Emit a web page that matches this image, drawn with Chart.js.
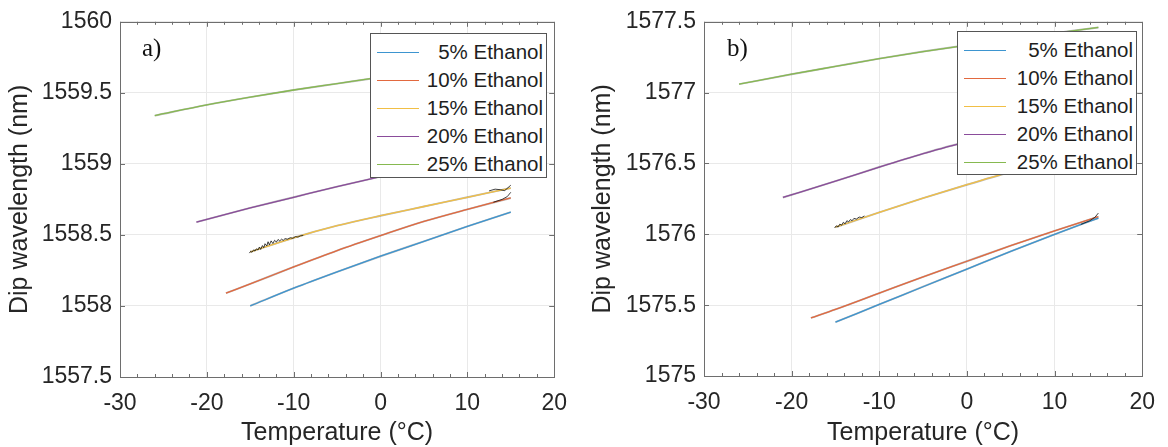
<!DOCTYPE html>
<html>
<head>
<meta charset="utf-8">
<script src="https://cdn.jsdelivr.net/npm/chart.js@4.4.1/dist/chart.umd.min.js"></script>
<style>
  html, body { margin:0; padding:0; background:#fff; }
  #wrap { position:relative; width:1168px; height:447px; overflow:hidden; font-family:'Liberation Sans', Arial, sans-serif; }
  canvas { position:absolute; top:0; }
  .legend { position:absolute; background:#fff; border:1px solid #555; box-sizing:border-box; }
  .legend .row { position:absolute; left:0; right:0; height:28px; }
  .legend .ln { position:absolute; left:6px; width:42px; top:13px; height:0; border-top:1.6px solid; }
  .legend .tx { position:absolute; right:3px; top:1px; font-size:20.5px; line-height:24px; color:#1e1e1e; white-space:nowrap; }
  .tag { position:absolute; font-family:'Liberation Serif', 'Times New Roman', serif; font-size:25px; line-height:25px; color:#111; }
</style>
</head>
<body>
<div id="wrap">
  <canvas id="chartA" width="580" height="447" style="left:0"></canvas>
  <canvas id="chartB" width="588" height="447" style="left:580px"></canvas>
  <div class="tag" style="left:142px; top:35px">a)</div>
  <div class="tag" style="left:727px; top:35px">b)</div>
  <div class="legend" id="legA" style="left:370px; top:33px; width:177px; height:145px"></div>
  <div class="legend" id="legB" style="left:957px; top:31px; width:180px; height:144px"></div>
</div>
<script>
// Dip wavelength vs temperature, two panels, five ethanol concentrations
const LABELS = ['5% Ethanol','10% Ethanol','15% Ethanol','20% Ethanol','25% Ethanol'];
const COLORS = ['#3d95d0','#e2693f','#f1bf45','#8a4c9b','#86b950'];
const INK = '#262626';

// panel a) fitted curves
const tA5  = [-15, -10, -5, 0, 5, 10, 15];
const wA5  = [1558.00, 1558.125, 1558.24, 1558.35, 1558.455, 1558.56, 1558.66];
const tA10 = [-17.8, -15, -10, -5, 0, 5, 10, 15];
const wA10 = [1558.09, 1558.155, 1558.275, 1558.39, 1558.495, 1558.595, 1558.68, 1558.76];
const tA15 = [-15, -10, -5, 0, 5, 10, 15];
const wA15 = [1558.38, 1558.48, 1558.565, 1558.635, 1558.70, 1558.765, 1558.83];
const tA20 = [-21.2, -15, -10, -5, 0, 5, 10, 15];
const wA20 = [1558.59, 1558.69, 1558.765, 1558.84, 1558.91, 1558.975, 1559.04, 1559.10];
const tA25 = [-26, -20, -15, -10, -5, 0, 5, 10, 15];
const wA25 = [1559.34, 1559.415, 1559.47, 1559.52, 1559.565, 1559.61, 1559.65, 1559.69, 1559.725];

// panel a) noisy measured segments (black)
const tA15raw = [-15.1,-14.95,-14.8,-14.6,-14.45,-14.3,-14.1,-13.95,-13.8,-13.6,-13.45,-13.3,-13.1,-12.95,-12.8,-12.6,-12.4,-12.2,-12.0,-11.8,-11.6,-11.4,-11.2,-11.0,-10.7,-10.4,-10.1,-9.8,-9.5,-9.2,-8.9];
const wA15raw = [1558.372,1558.385,1558.378,1558.395,1558.386,1558.402,1558.394,1558.415,1558.398,1558.425,1558.41,1558.438,1558.422,1558.452,1558.43,1558.458,1558.44,1558.462,1558.45,1558.468,1558.458,1558.47,1558.462,1558.474,1558.47,1558.48,1558.476,1558.488,1558.485,1558.494,1558.496];
const tA15end = [12.5, 13.2, 13.8, 14.3, 15];
const wA15end = [1558.81, 1558.822, 1558.818, 1558.812, 1558.85];
const tA10end = [13, 14, 14.6, 15];
const wA10end = [1558.73, 1558.75, 1558.77, 1558.80];

// panel b) fitted curves
const tB5  = [-15, -10, -5, 0, 5, 10, 15];
const wB5  = [1575.38, 1575.505, 1575.63, 1575.755, 1575.88, 1576.00, 1576.115];
const tB10 = [-17.8, -15, -10, -5, 0, 5, 10, 15];
const wB10 = [1575.41, 1575.47, 1575.585, 1575.70, 1575.81, 1575.92, 1576.025, 1576.125];
const tB15 = [-15, -10, -5, 0, 5, 10, 15];
const wB15 = [1576.05, 1576.155, 1576.255, 1576.35, 1576.44, 1576.52, 1576.595];
const tB20 = [-21, -15, -10, -5, 0, 5, 10, 15];
const wB20 = [1576.26, 1576.375, 1576.475, 1576.57, 1576.655, 1576.735, 1576.81, 1576.88];
const tB25 = [-26, -20, -15, -10, -5, 0, 5, 10, 15];
const wB25 = [1577.06, 1577.13, 1577.185, 1577.24, 1577.29, 1577.335, 1577.38, 1577.42, 1577.46];

// panel b) noisy measured segments (black)
const tB15raw = [-15.1,-14.9,-14.7,-14.5,-14.3,-14.1,-13.9,-13.7,-13.5,-13.3,-13.1,-12.9,-12.6,-12.3,-12.0,-11.7];
const wB15raw = [1576.045,1576.06,1576.052,1576.072,1576.064,1576.085,1576.074,1576.096,1576.088,1576.104,1576.096,1576.112,1576.108,1576.122,1576.118,1576.13];
const tB5end = [13, 14, 14.6, 15];
const wB5end = [1576.07, 1576.095, 1576.12, 1576.15];

const pts = (t, w) => t.map((x, i) => ({x, y: w[i]}));

function fitSets(list){
  const out = [];
  list.forEach(([t, w], i) => {
    out.push({ label: LABELS[i], data: pts(t, w), borderColor: COLORS[i], borderWidth: 1.3,
      pointRadius: 0, cubicInterpolationMode: 'monotone', order: 1, isFit: true });
    out.push({ label: '', data: pts(t, w), borderColor: 'rgba(0,0,0,0.28)', borderWidth: 1.9,
      pointRadius: 0, cubicInterpolationMode: 'monotone', order: 2 });
  });
  return out;
}
function rawSets(list){
  return list.map(([t, w]) => ({ label: '', data: pts(t, w), borderColor: 'rgba(20,20,20,0.8)',
    borderWidth: 1, pointRadius: 0, tension: 0, order: 0 }));
}

// box + inward ticks, MATLAB style
const boxPlugin = {
  id: 'box',
  afterDraw(chart){
    const {ctx, chartArea: a, scales: {x, y}} = chart;
    ctx.save();
    ctx.strokeStyle = '#6e6e6e';
    ctx.lineWidth = 1;
    ctx.beginPath();
    for (let v = x.min; v <= x.max + 1e-9; v += 2){
      const px = Math.round(x.getPixelForValue(v)) + 0.5;
      const len = Math.abs(v % 10) < 1e-9 ? 5 : 3;
      ctx.moveTo(px, a.bottom); ctx.lineTo(px, a.bottom - len);
      ctx.moveTo(px, a.top); ctx.lineTo(px, a.top + len);
    }
    y.ticks.forEach(tk => {
      const py = Math.round(y.getPixelForValue(tk.value)) + 0.5;
      ctx.moveTo(a.left, py); ctx.lineTo(a.left + 5, py);
      ctx.moveTo(a.right, py); ctx.lineTo(a.right - 5, py);
    });
    ctx.stroke();
    ctx.strokeRect(Math.round(a.left) + 0.5, Math.round(a.top) + 0.5,
      Math.round(a.right - a.left), Math.round(a.bottom - a.top));
    ctx.restore();
  }
};

function makePanel(id, datasets, yMin, yMax, lay){
  return new Chart(document.getElementById(id), {
    type: 'line',
    data: { datasets },
    plugins: [boxPlugin],
    options: {
      responsive: false, animation: false, devicePixelRatio: 1,
      layout: { padding: { top: lay.top, right: lay.right, left: 0, bottom: 0 } },
      plugins: { legend: { display: false }, tooltip: { enabled: false } },
      scales: {
        x: {
          type: 'linear', min: -30, max: 20,
          ticks: { stepSize: 10, color: INK, padding: 13, font: { family: 'Liberation Sans', size: 23 } },
          grid: { color: '#e9e9e9', drawTicks: false },
          border: { display: false },
          title: { display: true, text: 'Temperature (°C)', color: INK, padding: { top: 0, bottom: -1 },
            font: { family: 'Liberation Sans', size: 25 } },
          afterFit: s => { s.height = lay.xh; }
        },
        y: {
          min: yMin, max: yMax,
          ticks: { stepSize: 0.5, color: INK, padding: 8, font: { family: 'Liberation Sans', size: 23 },
            callback: v => String(+Number(v).toFixed(1)) },
          grid: { color: '#e9e9e9', drawTicks: false },
          border: { display: false },
          title: { display: true, text: 'Dip wavelength (nm)', color: INK, padding: { top: lay.tp, bottom: 0 },
            font: { family: 'Liberation Sans', size: 25 } },
          afterFit: s => { s.width = lay.yw; }
        }
      }
    }
  });
}

function buildLegend(elId, chart){
  const el = document.getElementById(elId);
  chart.data.datasets.filter(d => d.isFit).forEach((d, i) => {
    const row = document.createElement('div');
    row.className = 'row';
    row.style.top = (5 + i * 28) + 'px';
    row.innerHTML = `<div class="ln" style="border-color:${d.borderColor}"></div><div class="tx">${d.label}</div>`;
    el.appendChild(row);
  });
}

const chartA = makePanel('chartA',
  [...rawSets([[tA15raw, wA15raw], [tA15end, wA15end], [tA10end, wA10end]]),
   ...fitSets([[tA5, wA5], [tA10, wA10], [tA15, wA15], [tA20, wA20], [tA25, wA25]])],
  1557.5, 1560, { top: 18, right: 18, xh: 70, yw: 120, tp: 5 });

const chartB = makePanel('chartB',
  [...rawSets([[tB15raw, wB15raw], [tB5end, wB5end]]),
   ...fitSets([[tB5, wB5], [tB10, wB10], [tB15, wB15], [tB20, wB20], [tB25, wB25]])],
  1575, 1577.5, { top: 15, right: 20, xh: 71, yw: 124, tp: 8 });

buildLegend('legA', chartA);
buildLegend('legB', chartB);
</script>
</body>
</html>
